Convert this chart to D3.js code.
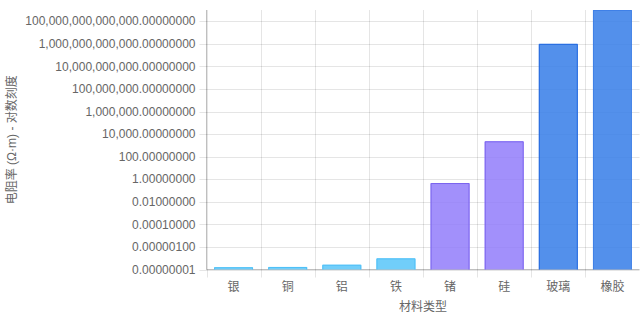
<!DOCTYPE html>
<html>
<head>
<meta charset="utf-8">
<script src="https://cdn.jsdelivr.net/npm/d3@7"></script>
<style>
  body { margin: 0; background: #fff; }
  svg { display: block; }
  text { font-family: "Liberation Sans", Arial, "Noto Sans CJK SC", sans-serif; fill: #666; }
</style>
</head>
<body>
<svg id="chart" width="640" height="320"></svg>
<script>
const materials = ["银", "铜", "铝", "铁", "锗", "硅", "玻璃", "橡胶"];
const resistivity = [1.59e-8, 1.68e-8, 2.65e-8, 9.71e-8, 0.46, 2300, 1e12, 1e15];
const groups = ["metal", "metal", "metal", "metal", "semi", "semi", "insul", "insul"];
const yTicks = [1e-8, 1e-6, 1e-4, 1e-2, 1, 1e2, 1e4, 1e6, 1e8, 1e10, 1e12, 1e14];

const fills = { metal: "rgba(98,201,250,0.9)", semi: "rgba(146,124,250,0.85)", insul: "rgba(58,128,232,0.87)" };
const strokes = { metal: "#4fc0f7", semi: "#7a63ee", insul: "#2469e0" };

const svg = d3.select("#chart");
const plotLeft = 206.5, plotRight = 639.5, plotTop = 10, plotBottom = 269.5;

const x = d3.scaleBand().domain(materials).range([plotLeft, plotRight]);
const y = d3.scaleLog().domain([1e-8, 1e15]).range([plotBottom, plotTop]);
const fmt = d3.format(",.8f");

// grid
const grid = svg.append("g");
grid.selectAll(".hg")
  .data(yTicks)
  .enter().append("line")
  .attr("x1", plotLeft - 7).attr("x2", plotRight)
  .attr("y1", d => Math.round(y(d)) + 0.5).attr("y2", d => Math.round(y(d)) + 0.5)
  .attr("stroke", "rgba(0,0,0,0.1)");

const bounds = materials.map(m => x(m)).concat([plotRight]);
grid.selectAll(".vg")
  .data(bounds)
  .enter().append("line")
  .attr("x1", d => Math.round(d) + 0.5).attr("x2", d => Math.round(d) + 0.5)
  .attr("y1", plotTop).attr("y2", plotBottom + 8)
  .attr("stroke", "rgba(0,0,0,0.1)");

// axis lines
svg.append("line")
  .attr("x1", plotLeft).attr("x2", plotLeft).attr("y1", plotTop).attr("y2", plotBottom)
  .attr("stroke", "rgba(0,0,0,0.25)");
svg.append("line")
  .attr("x1", plotLeft).attr("x2", plotRight).attr("y1", plotBottom).attr("y2", plotBottom)
  .attr("stroke", "rgba(0,0,0,0.25)");

// y tick labels
svg.append("g").selectAll("text")
  .data(yTicks)
  .enter().append("text")
  .attr("x", plotLeft - 11)
  .attr("y", d => y(d))
  .attr("dy", "0.35em")
  .attr("text-anchor", "end")
  .attr("font-size", 12)
  .text(d => fmt(d));

// bars
const bw = x.bandwidth() * 0.72;
const bars = svg.append("g");
bars.selectAll("rect")
  .data(materials)
  .enter().append("rect")
  .attr("x", (d) => x(d) + (x.bandwidth() - bw) / 2)
  .attr("y", (d, i) => y(resistivity[i]))
  .attr("width", bw)
  .attr("height", (d, i) => plotBottom - y(resistivity[i]))
  .attr("fill", (d, i) => fills[groups[i]]);

// borders (no bottom edge)
bars.selectAll("path")
  .data(materials)
  .enter().append("path")
  .attr("d", (d, i) => {
    const x0 = x(d) + (x.bandwidth() - bw) / 2 + 0.5, x1 = x0 + bw - 1;
    const yt = y(resistivity[i]) + 0.5;
    return `M${x0},${plotBottom}V${yt}H${x1}V${plotBottom}`;
  })
  .attr("fill", "none")
  .attr("stroke", (d, i) => strokes[groups[i]])
  .attr("stroke-opacity", (d, i) => i === 7 ? 0.4 : 1)
  .attr("stroke-width", 1);

// x tick labels
svg.append("g").selectAll("text")
  .data(materials)
  .enter().append("text")
  .attr("x", d => x(d) + x.bandwidth() / 2)
  .attr("y", 291)
  .attr("text-anchor", "middle")
  .attr("font-size", 12)
  .text(d => d);

// axis titles
svg.append("text")
  .attr("x", (plotLeft + plotRight) / 2)
  .attr("y", 311)
  .attr("text-anchor", "middle")
  .attr("font-size", 12)
  .text("材料类型");

svg.append("text")
  .attr("transform", `translate(16, ${(plotTop + plotBottom) / 2}) rotate(-90)`)
  .attr("text-anchor", "middle")
  .attr("font-size", 12)
  .text("电阻率 (Ω·m) - 对数刻度");
</script>
</body>
</html>
